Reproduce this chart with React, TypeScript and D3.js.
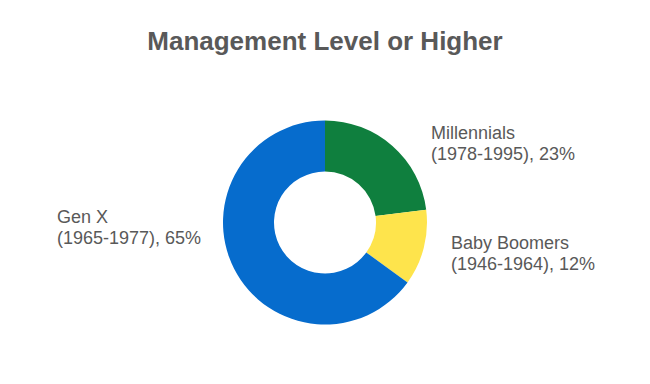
import React from "react";
import * as d3 from "d3";

const categories = ["Millennials", "Baby Boomers", "Gen X"];
const ranges = ["(1978-1995)", "(1946-1964)", "(1965-1977)"];
const values = [23, 12, 65];
const colors = ["#0f7f3e", "#fee44c", "#066ccd"];
const title = "Management Level or Higher";

const W = 650;
const H = 384;
const cx = 325;
const cy = 222.5;
const rOuter = 102;
const rInner = 51;

// label anchor points (left edge, first baseline)
const labelPos: [number, number][] = [
  [431, 138.5],
  [451, 248.5],
  [57, 222.5],
];

export default function App() {
  const pie = d3.pie<number>().sort(null).startAngle(0).endAngle(2 * Math.PI);
  const arcs = pie(values);
  const arcGen = d3.arc<d3.PieArcDatum<number>>().innerRadius(rInner).outerRadius(rOuter);
  const total = d3.sum(values);
  return (
    <svg
      width={W}
      height={H}
      style={{ position: "absolute", left: 0, top: 0, background: "#fff" }}
      fontFamily="'Liberation Sans', Arial, sans-serif"
    >
      <rect width={W} height={H} fill="#fff" />
      <text x={cx} y={49.5} textAnchor="middle" fontSize={26} fontWeight="bold" fill="#595959">
        {title}
      </text>
      <g transform={`translate(${cx},${cy})`}>
        {arcs.map((a, i) => (
          <path key={i} d={arcGen(a) || ""} fill={colors[i]} />
        ))}
      </g>
      {categories.map((c, i) => (
        <text key={c} x={labelPos[i][0]} y={labelPos[i][1]} fontSize={18} fill="#595959">
          <tspan x={labelPos[i][0]}>{c}</tspan>
          <tspan x={labelPos[i][0]} dy={21.5}>
            {`${ranges[i]}, ${Math.round((values[i] / total) * 100)}%`}
          </tspan>
        </text>
      ))}
    </svg>
  );
}
